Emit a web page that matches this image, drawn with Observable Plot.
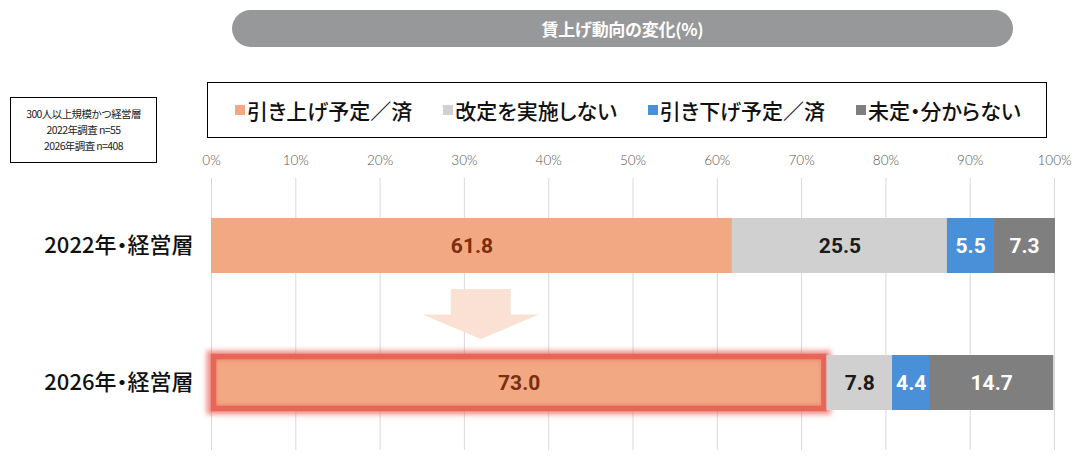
<!DOCTYPE html>
<html>
<head>
<meta charset="utf-8">
<script src="https://cdn.jsdelivr.net/npm/d3@7"></script>
<script src="https://cdn.jsdelivr.net/npm/@observablehq/plot@0.6"></script>
<style>
  html, body { margin: 0; padding: 0; background: #fff; }
  #wrap { position: relative; width: 1080px; height: 460px; overflow: hidden; font-family: "Noto Sans CJK JP", "Noto Sans", sans-serif; }
  #chart { position: absolute; left: 0; top: 0; }
  #title { position: absolute; left: 232px; top: 10px; width: 781px; height: 37px; border-radius: 19px; background: #97989a; color: #fff; font-size: 17px; font-weight: 700; display: flex; align-items: center; justify-content: center; letter-spacing: -0.3px; }
  #info { position: absolute; left: 10px; top: 97px; width: 147px; height: 66px; box-sizing: border-box; border: 1.5px solid #000; font-size: 10.5px; color: #222; display: flex; flex-direction: column; justify-content: center; align-items: center; line-height: 16px; letter-spacing: -0.6px; }
  #legend { position: absolute; left: 207px; top: 82px; width: 840px; height: 56px; box-sizing: border-box; border: 1.5px solid #000; display: flex; align-items: center; padding-left: 27px; gap: 31px; }
  .item { display: flex; align-items: center; font-size: 21px; font-weight: 500; color: #111; font-feature-settings: "palt"; }
  .sw { width: 10px; height: 10px; margin-right: 2px; }
</style>
</head>
<body>
<div id="wrap">
  <div id="chart"></div>
  <div id="title"></div>
  <div id="info"></div>
  <div id="legend"></div>
</div>
<script>
// ---- data ----
const titleText = "賃上げ動向の変化(%)";
const notes = ["300人以上規模かつ経営層", "2022年調査 n=55", "2026年調査 n=408"];
const years = ["2022年・経営層", "2026年・経営層"];
const categories = ["引き上げ予定／済", "改定を実施しない", "引き下げ予定／済", "未定・分からない"];
const values2022 = [61.8, 25.5, 5.5, 7.3];
const values2026 = [73.0, 7.8, 4.4, 14.7];
const xTicks = [0, 10, 20, 30, 40, 50, 60, 70, 80, 90, 100];
const colors = ["#f2a983", "#d0d0d0", "#4a90d9", "#7f7f7f"];
const labelColors = ["#7a2e0e", "#1a1a1a", "#ffffff", "#ffffff"];

// ---- table ----
const table = [];
[values2022, values2026].forEach((vals, i) => {
  vals.forEach((v, j) => table.push({year: years[i], cat: categories[j], value: v, ci: j}));
});
const highlight = table.filter(d => d.year === years[1] && d.cat === categories[0]);

// ---- header HTML ----
document.getElementById("title").textContent = titleText;
const info = document.getElementById("info");
notes.forEach(t => { const d = document.createElement("div"); d.textContent = t; info.appendChild(d); });
const legend = document.getElementById("legend");
categories.forEach((c, i) => {
  const it = document.createElement("div"); it.className = "item";
  const sw = document.createElement("span"); sw.className = "sw"; sw.style.background = colors[i];
  const tx = document.createElement("span"); tx.textContent = c;
  it.appendChild(sw); it.appendChild(tx); legend.appendChild(it);
});

// ---- chart ----
const font = "'Noto Sans CJK JP', 'Noto Sans', sans-serif";
const plot = Plot.plot({
  width: 1080,
  height: 460,
  marginLeft: 211,
  marginRight: 26,
  marginTop: 178,
  marginBottom: 10,
  style: {fontFamily: font, background: "transparent", overflow: "visible"},
  x: {domain: [0, 100], axis: null},
  y: {domain: years, axis: null, paddingInner: 0.6, paddingOuter: 0.29},
  color: {domain: categories, range: colors},
  marks: [
    Plot.ruleX(xTicks, {stroke: "#d9d9d9", strokeWidth: 1}),
    Plot.text(xTicks, {x: d => d, frameAnchor: "top", dy: -23, text: d => d + "%", fontSize: 13.5, fill: "#555", fontFamily: "Lato, sans-serif", fontWeight: 300}),
    Plot.text(years, {x: () => 0, y: d => d, text: d => d, textAnchor: "end", dx: -18, fontSize: 22, fontWeight: 500, fill: "#111"}),
    Plot.barX(table, Plot.stackX({x: "value", y: "year", fill: "cat", order: categories})),
    Plot.barX(highlight, {x: "value", y: "year", fill: "none", stroke: "#e8655a", strokeWidth: 9, strokeOpacity: 0.7}),
    Plot.barX(highlight, {x: "value", y: "year", fill: "none", stroke: "#e8655a", strokeWidth: 5.5, insetLeft: 2.5, insetRight: 2.5, insetTop: 1.5, insetBottom: 1.5}),
    // the other segments of each row sit on top of the glow
    Plot.barX(table, Plot.stackX({x: "value", y: "year", fill: "cat", order: categories, fillOpacity: d => d.ci === 0 ? 0 : 1})),
    Plot.text(table, Plot.stackX({x: "value", y: "year", z: "cat", order: categories, text: d => d3.format(".1f")(d.value), fill: d => labelColors[d.ci], fontSize: 21, fontWeight: 700, fontFamily: "Roboto, 'Noto Sans', sans-serif"}))
  ]
});
plot.style.fontFeatureSettings = '"palt"';
document.getElementById("chart").appendChild(plot);

// glow filter + decorative arrow between the two rows
const svg = d3.select(plot);
const defs = svg.insert("defs", ":first-child");
defs.append("filter").attr("id", "glowblur").attr("x", "-10%").attr("y", "-60%").attr("width", "120%").attr("height", "220%")
  .append("feGaussianBlur").attr("stdDeviation", 2.6);
defs.append("filter").attr("id", "edgeblur").attr("x", "-10%").attr("y", "-60%").attr("width", "120%").attr("height", "220%")
  .append("feGaussianBlur").attr("stdDeviation", 0.7);
svg.selectAll('g[stroke-width="9"]').attr("filter", "url(#glowblur)");
svg.selectAll('g[stroke-width="5.5"]').attr("filter", "url(#edgeblur)");

const xs = plot.scale("x"), ys = plot.scale("y");
const cx = xs.apply(32), hw = xs.apply(38.9) - cx, shw = xs.apply(35.55) - cx;
const yTop = ys.apply(years[0]) + ys.bandwidth + 16;
const yTip = ys.apply(years[1]) - 16;
const yBase = yTop + (yTip - yTop) * 0.51;
const arrowPath = `M${cx - shw},${yTop}H${cx + shw}V${yBase}H${cx + hw}L${cx},${yTip}L${cx - hw},${yBase}H${cx - shw}Z`;
svg.insert("path", 'g[aria-label="bar"]').attr("d", arrowPath).attr("fill", "#fbe1d3");
</script>
</body>
</html>
